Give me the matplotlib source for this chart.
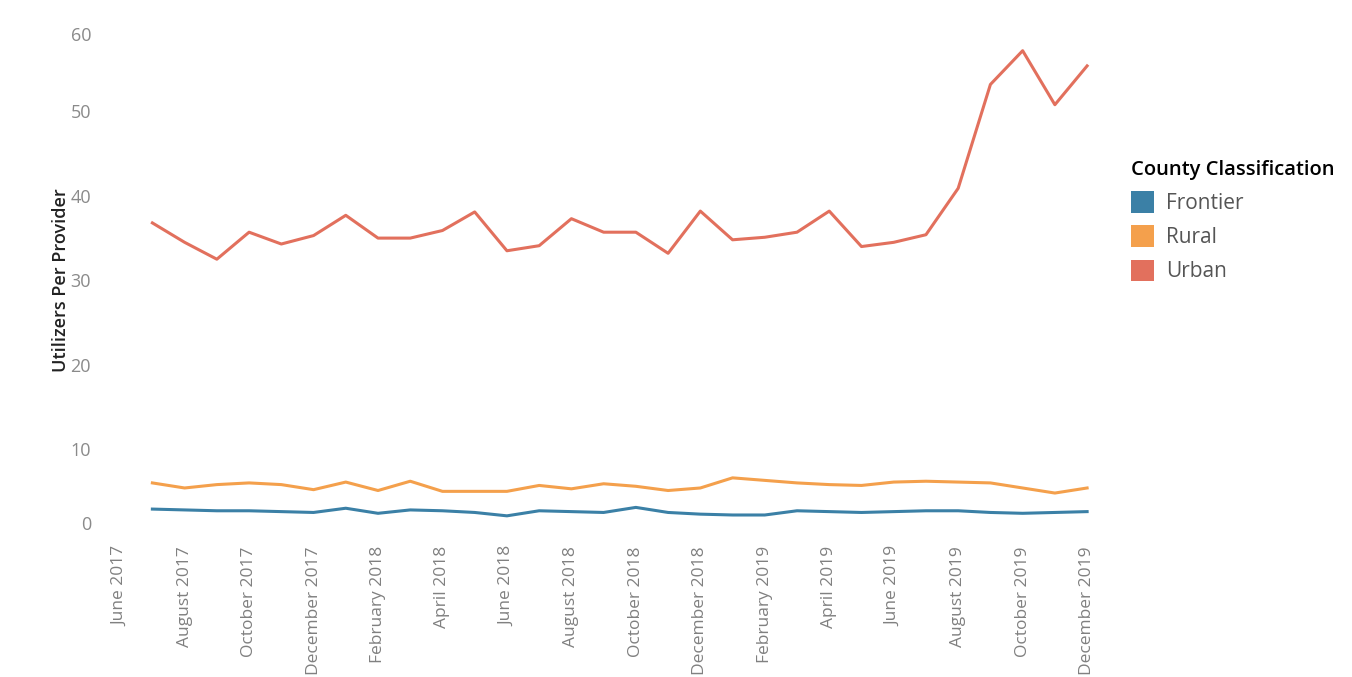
import matplotlib.pyplot as plt
from matplotlib.patches import Patch

plt.rcParams['font.family'] = ['Open Sans', 'DejaVu Sans']

# Monthly values, July 2017 - December 2019
months = [
    "Jul 2017", "Aug 2017", "Sep 2017", "Oct 2017", "Nov 2017", "Dec 2017",
    "Jan 2018", "Feb 2018", "Mar 2018", "Apr 2018", "May 2018", "Jun 2018",
    "Jul 2018", "Aug 2018", "Sep 2018", "Oct 2018", "Nov 2018", "Dec 2018",
    "Jan 2019", "Feb 2019", "Mar 2019", "Apr 2019", "May 2019", "Jun 2019",
    "Jul 2019", "Aug 2019", "Sep 2019", "Oct 2019", "Nov 2019", "Dec 2019",
]
urban = [36.8, 34.5, 32.5, 35.7, 34.3, 35.3, 37.7, 35.0, 35.0, 35.9,
         38.1, 33.5, 34.1, 37.3, 35.7, 35.7, 33.2, 38.2, 34.8, 35.1,
         35.7, 38.2, 34.0, 34.5, 35.4, 40.9, 53.2, 57.2, 50.8, 55.4]
rural = [6.0, 5.4, 5.8, 6.0, 5.8, 5.2, 6.1, 5.1, 6.2, 5.0,
         5.0, 5.0, 5.7, 5.3, 5.9, 5.6, 5.1, 5.4, 6.6, 6.3,
         6.0, 5.8, 5.7, 6.1, 6.2, 6.1, 6.0, 5.4, 4.8, 5.4]
frontier = [2.9, 2.8, 2.7, 2.7, 2.6, 2.5, 3.0, 2.4, 2.8, 2.7,
            2.5, 2.1, 2.7, 2.6, 2.5, 3.1, 2.5, 2.3, 2.2, 2.2,
            2.7, 2.6, 2.5, 2.6, 2.7, 2.7, 2.5, 2.4, 2.5, 2.6]

tick_labels = [
    "June 2017", "August 2017", "October 2017", "December 2017",
    "February 2018", "April 2018", "June 2018", "August 2018",
    "October 2018", "December 2018", "February 2019", "April 2019",
    "June 2019", "August 2019", "October 2019", "December 2019",
]
y_ticks = [0, 10, 20, 30, 40, 50, 60]

colors = {"Frontier": "#3b80a6", "Rural": "#f4a04c", "Urban": "#e2705d"}

fig = plt.figure(figsize=(13.52, 6.77), dpi=100)
ax = fig.add_axes([105 / 1352, 0.1994, 995 / 1352, 0.7731])

# x positions: month index with June 2017 = 0
x = list(range(1, len(months) + 1))
ax.plot(x, frontier, color=colors["Frontier"], lw=2.2)
ax.plot(x, rural, color=colors["Rural"], lw=2.2)
ax.plot(x, urban, color=colors["Urban"], lw=2.2)

ax.set_xlim(-0.47, 30.4)
ax.set_ylim(-1, 61)

ax.set_xticks(range(0, 31, 2))
ax.set_xticklabels(tick_labels, rotation=90, fontsize=12.5, color="#808080")
ax.set_yticks(y_ticks)
ax.set_yticklabels([str(v) for v in y_ticks], fontsize=13, color="#8a8a8a")
ylabs = ax.get_yticklabels()
ylabs[0].set_va("bottom")
ylabs[-1].set_va("top")
ax.tick_params(length=0, pad=10)
ax.tick_params(axis="x", pad=3)

for s in ax.spines.values():
    s.set_visible(False)

ax.set_ylabel("Utilizers Per Provider", fontsize=13, fontweight="semibold",
              color="#222222", labelpad=0)

handles = [Patch(facecolor=colors[k], edgecolor="none") for k in ["Frontier", "Rural", "Urban"]]
leg = fig.legend(handles, ["Frontier", "Rural", "Urban"], loc="upper left",
                 bbox_to_anchor=(1112 / 1352, 1 - 141 / 677), frameon=False,
                 title="County Classification", alignment="left",
                 fontsize=15, title_fontsize=14.5, handlelength=1.1,
                 handleheight=1.2, handletextpad=0.6, labelspacing=0.55)
leg.get_title().set_fontweight("semibold")
for t in leg.get_texts():
    t.set_color("#555555")

fig.savefig("out.png", dpi=100)
